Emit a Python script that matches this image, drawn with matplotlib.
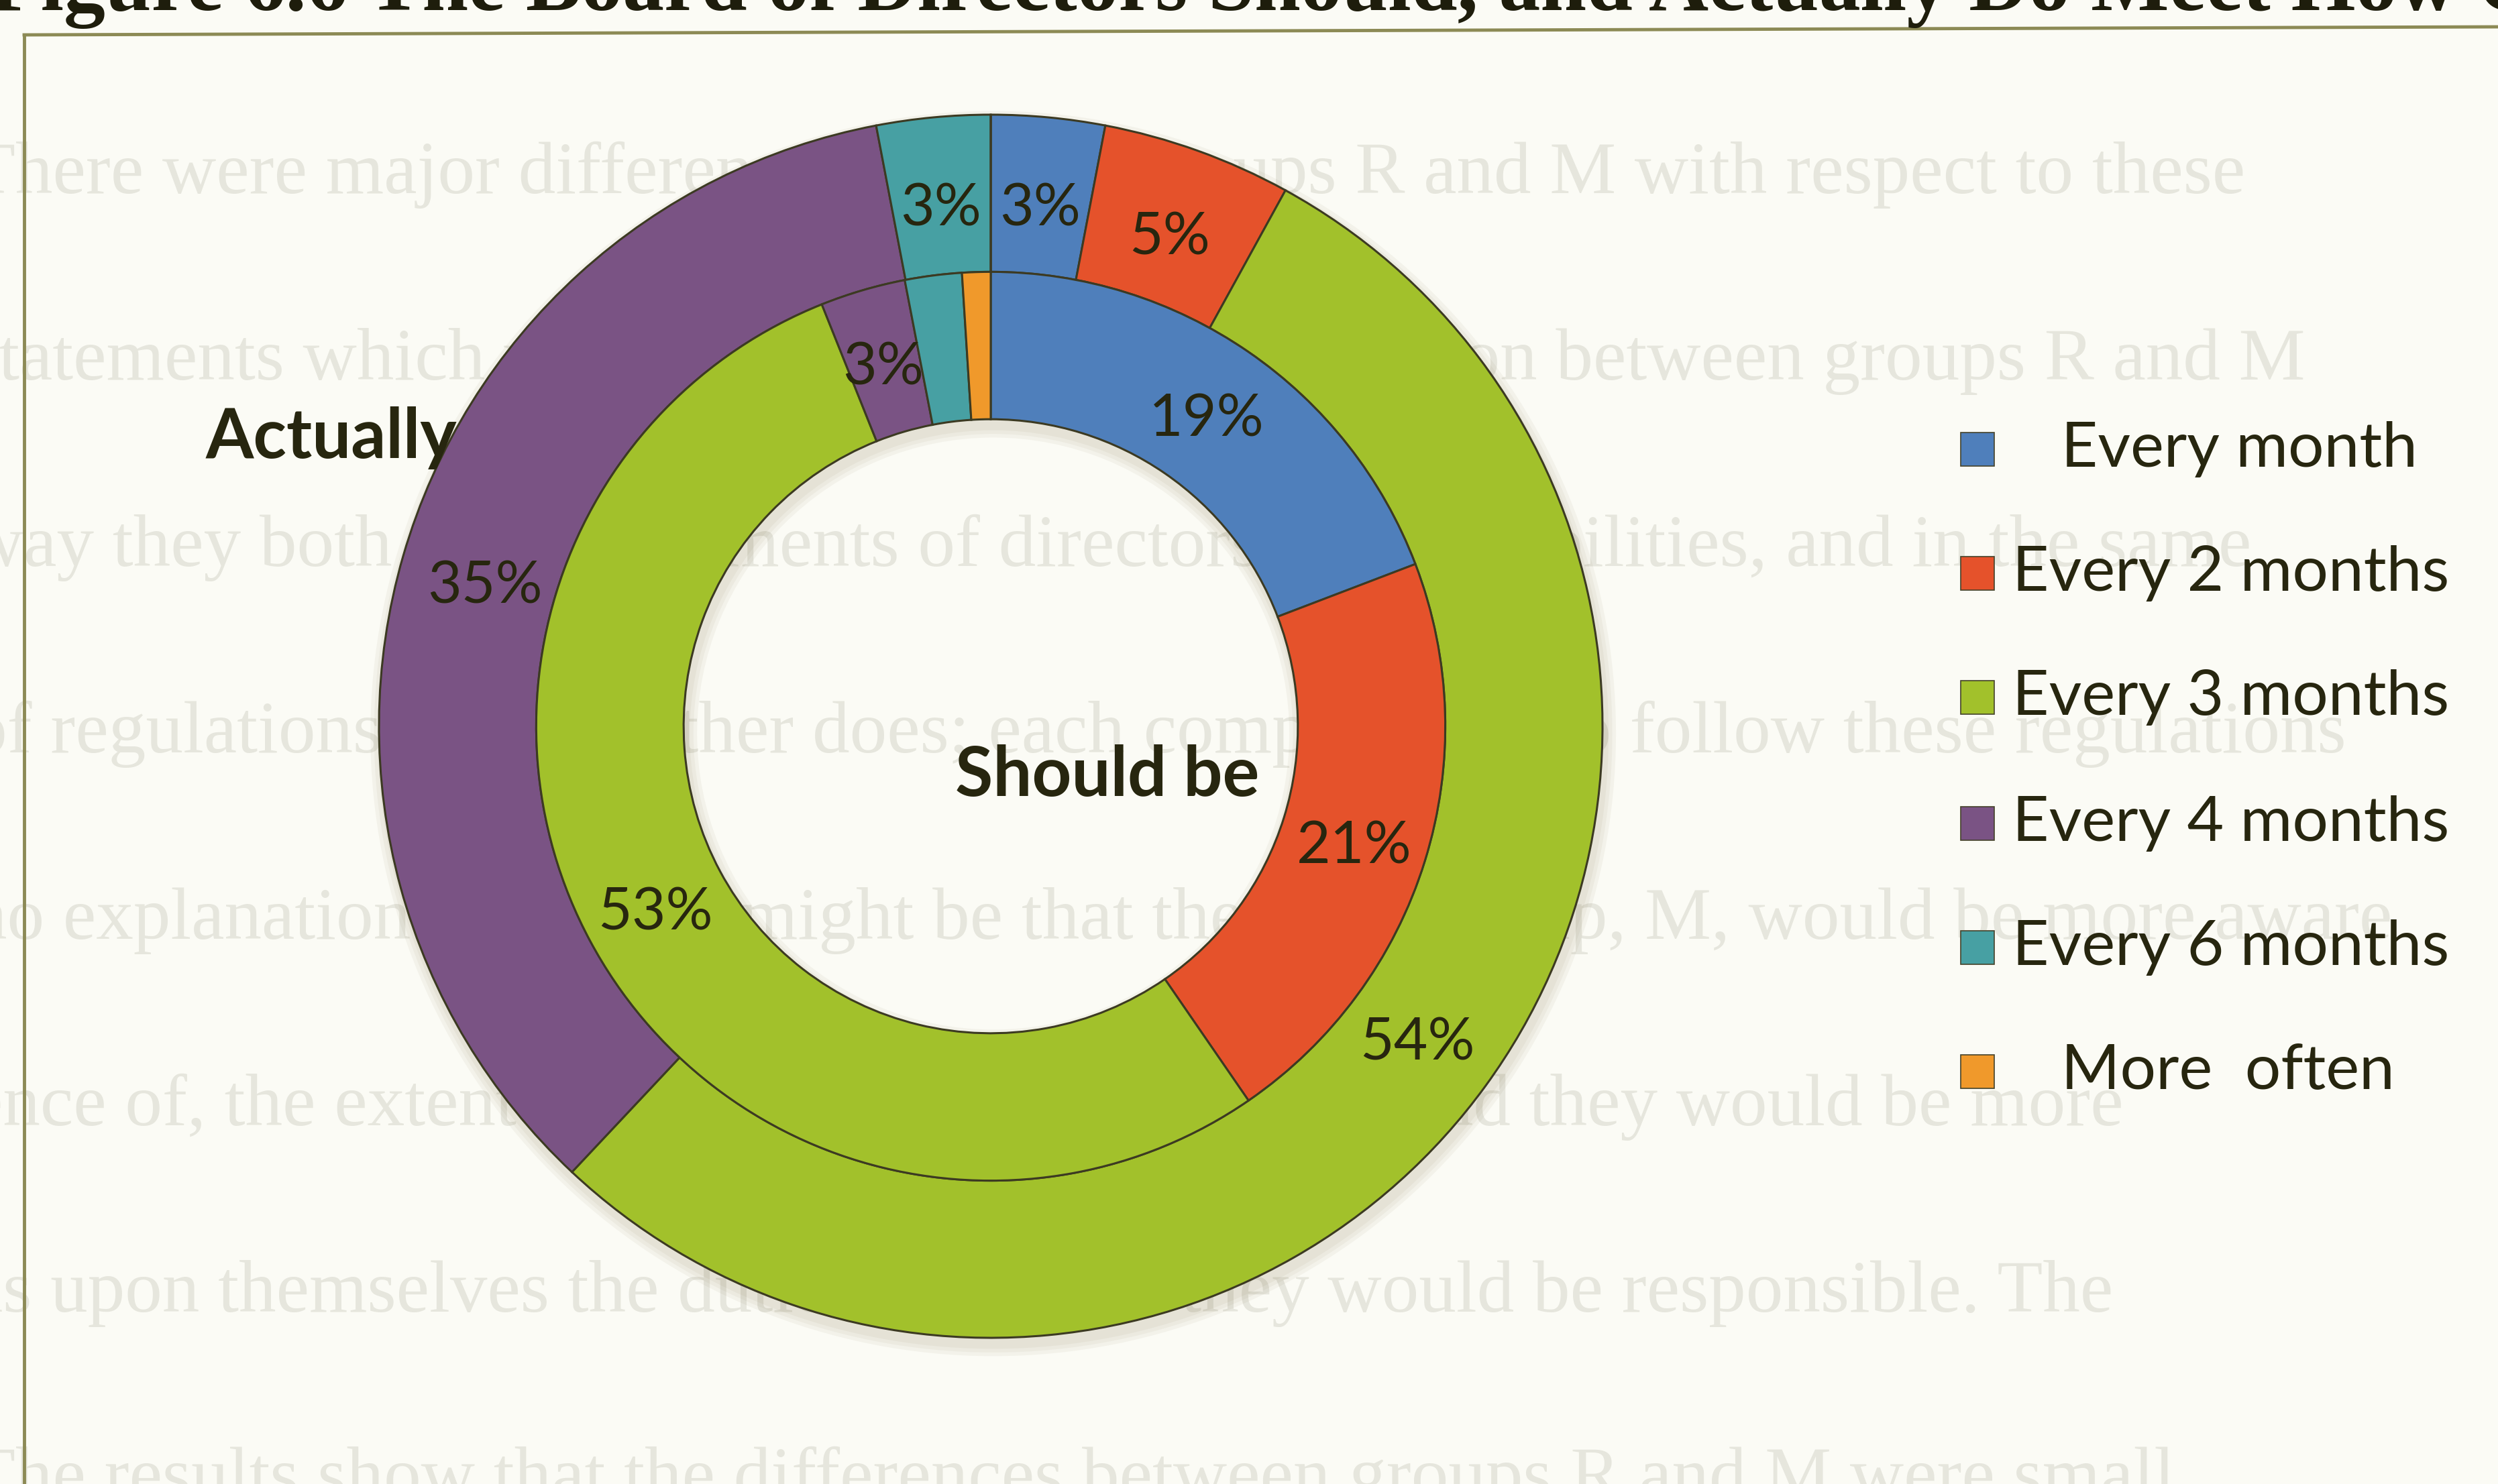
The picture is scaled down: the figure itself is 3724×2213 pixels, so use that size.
import matplotlib as mpl
mpl.use('Agg')
import matplotlib.pyplot as plt
from matplotlib.patches import Rectangle
from matplotlib.lines import Line2D
import numpy as np

# meeting frequency categories
categories = ['Every month', 'Every 2 months', 'Every 3 months',
              'Every 4 months', 'Every 6 months', 'More often']
legend_text = ['   Every month', 'Every 2 months', 'Every 3 months',
               'Every 4 months', 'Every 6 months', '   More  often']

# outer ring = how often the board actually meets (%)
actually = [3, 5, 54, 35, 3, 0]
# inner ring = how often it should meet (%)
should_be = [19, 21, 53, 3, 2, 1]
# the two smallest inner slices carry no label in the chart
inner_labelled = [True, True, True, True, False, False]

colors = ['#4f7fbb', '#e5522b', '#a2c12b', '#7a5384', '#47a0a3', '#f0992b']

title = 'Figure 6.6 The Board of Directors Should, and Actually Do Meet How Often'
page_lines = [
    'There were major differences between groups R and M with respect to these',
    'statements which were not so clear-cut, the variation between groups R and M',
    'way they both see the elements of directors\u2019 responsibilities, and in the same',
    'of regulations that the other does; each company has to follow these regulations',
    'no explanation for this, it might be that the other group, M, would be more aware',
    'ence of, the extent of directors\u2019 responsibilities, and they would be more',
    'as upon themselves the duties for which they would be responsible. The',
    'The results show that the differences between groups R and M were small',
]

W, H = 3724, 2213
DPI = 100
TXT = '#27260f'
EDGE = '#3c3a22'

fig = plt.figure(figsize=(W / DPI, H / DPI), dpi=DPI, facecolor='#fbfbf5')

# faint show-through of the printed page behind the chart
for i, line in enumerate(page_lines):
    fig.text(-0.012, 1 - (261 + 278 * i) / H, line, family='Liberation Serif',
             fontsize=80, color='#e6e6dd', va='center', ha='left', zorder=-5)

# heading, cut off by the top of the page
fig.text(-0.004, 1 - 15 / H, title, family='Liberation Serif', weight='bold',
         fontsize=89, color='#1e1d0c', va='baseline', ha='left')

# chart frame (top and left edge)
fig.add_artist(Line2D([36 / W, 1.0], [1 - 52 / H, 1 - 40 / H], color='#8c8a55', lw=3.5))
fig.add_artist(Line2D([36 / W, 36 / W], [1 - 52 / H, 0.0], color='#8c8a55', lw=3.5))

# donut axes, centred at (1477, 1083) px with outer radius 912 px
cx, cy, R = 1477, 1083, 912
ax = fig.add_axes([(cx - R) / W, (H - cy - R) / H, 2 * R / W, 2 * R / H], zorder=2)
ax.patch.set_alpha(0)

r_out, r_mid, r_hole = 1.0, 0.743, 0.502
wp = dict(edgecolor=EDGE, linewidth=2.2)

# soft shadow under the rings
for k, a in enumerate([0.05, 0.05, 0.05]):
    ax.pie([1], radius=r_out + 0.006 * (k + 1), colors=['#6b5a2a'], center=(0.004, -0.012),
           wedgeprops=dict(width=r_out - r_hole + 0.012 * (k + 1), alpha=a, linewidth=0))

w_out, _ = ax.pie(actually, radius=r_out, colors=colors, startangle=90,
                  counterclock=False, wedgeprops=dict(width=r_out - r_mid, **wp))
w_in, _ = ax.pie(should_be, radius=r_mid, colors=colors, startangle=90,
                 counterclock=False, wedgeprops=dict(width=r_mid - r_hole, **wp))
ax.set_xlim(-1, 1)
ax.set_ylim(-1, 1)
ax.axis('off')


def label_ring(wedges, values, rad, show):
    for w, v, s in zip(wedges, values, show):
        if v == 0 or not s:
            continue
        a = np.deg2rad((w.theta1 + w.theta2) / 2)
        ax.text(rad * np.cos(a), rad * np.sin(a) - 0.012, f'{v:.0f}%', family='Lato',
                fontsize=63, color=TXT, ha='center', va='center')


label_ring(w_out, actually, (r_out + r_mid) / 2 - 0.01, [True] * len(actually))
label_ring(w_in, should_be, (r_mid + r_hole) / 2, inner_labelled)

ax.text((494 - cx) / R, (cy - 653) / R, 'Actually', family='Lato', weight='bold',
        fontsize=74, color=TXT, ha='center', va='center', clip_on=False)
ax.text((1651 - cx) / R, (cy - 1157) / R, 'Should be', family='Lato', weight='bold',
        fontsize=74, color=TXT, ha='center', va='center', clip_on=False)

# legend
rows = [670, 855, 1040, 1228, 1413, 1598]
sq = 50
for name, col, y in zip(legend_text, colors, rows):
    fig.add_artist(Rectangle(((2948 - sq / 2) / W, 1 - (y + sq / 2) / H), sq / W, sq / H,
                             facecolor=col, edgecolor='#44422a', lw=1.2))
    fig.text(3000 / W, 1 - y / H, name, family='Lato', fontsize=68, color=TXT,
             ha='left', va='center')

fig.savefig('out.png', dpi=DPI, facecolor=fig.get_facecolor())
